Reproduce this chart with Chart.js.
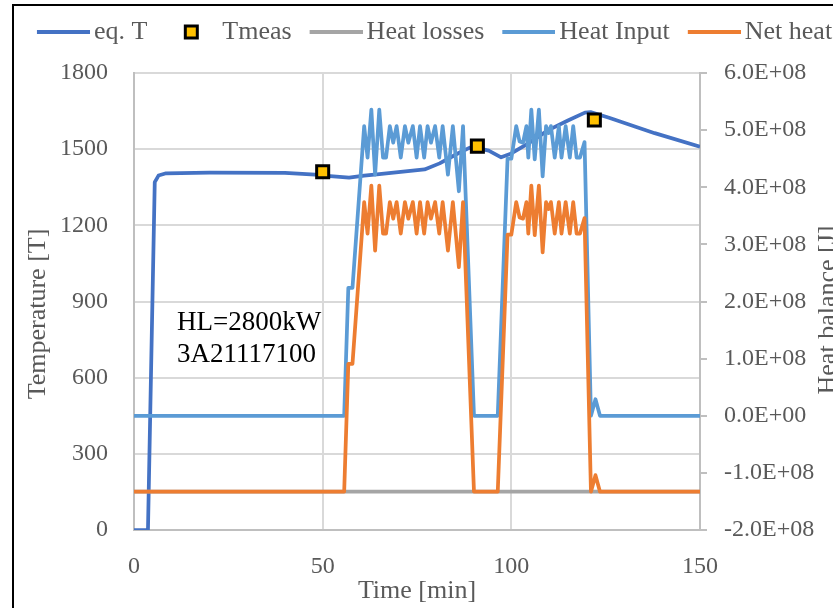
<!DOCTYPE html>
<html>
<head>
<meta charset="utf-8">
<title>Heat balance</title>
<script src="https://cdn.jsdelivr.net/npm/chart.js@4.4.0/dist/chart.umd.min.js"></script>
<style>
  html, body { margin: 0; padding: 0; background: #fff; overflow: hidden; width: 833px; height: 608px; }
  #chart { position: absolute; left: 14px; top: -4px; }
  #frame { position: absolute; left: 12px; top: 4px; width: 900px; height: 700px;
           border-left: 2px solid #000; border-top: 2px solid #000; pointer-events: none; }
</style>
</head>
<body>
<canvas id="chart" width="840" height="630"></canvas>
<div id="frame"></div>
<script>
// equivalent temperature
const tempTime = [0, 3.7, 5.5, 6.5, 8.5, 20, 40, 48, 52, 57, 61, 65, 77, 81, 85.8, 89, 91, 94, 97.3, 100, 104.4, 109.8, 115, 119.5, 121, 125.7, 138, 150];
const eqTemp   = [0, 0, 1370, 1396, 1405, 1408, 1407, 1400, 1394, 1388, 1396, 1402, 1420, 1444, 1483, 1506, 1504, 1494, 1468, 1483, 1522, 1575, 1613, 1644, 1646, 1625, 1563, 1510];

// measured temperature
const measTime = [50, 91, 122];
const measTemp = [1411, 1512, 1615];

// heat losses (constant)
const lossTime = [0, 150];
const heatLoss = [-1.33e8, -1.33e8];

// heat input and net heat [J]
const heatTime = [0, 55.7, 56.8, 57.9, 61.0, 61.9, 62.9, 63.9, 65.0, 66.0, 66.8, 67.8, 68.7, 69.6, 70.7, 71.8, 72.7, 73.9, 74.9, 75.8, 76.9, 77.8, 78.7, 79.8, 80.9, 81.8, 83.2, 84.5, 86.1, 87.2, 90.1,
                  96.4, 99.0, 100.0, 101.3, 102.2, 103.1, 104.0, 104.5, 105.3, 106.2, 107.3, 108.3, 109.2, 109.9, 110.5, 111.5, 112.6, 113.3, 114.4, 115.5, 116.4, 117.3, 118.2, 119.4, 121.1, 122.3, 123.5, 150];
const heatInput = [0, 0, 2.24e8, 2.24e8, 5.07e8, 4.52e8, 5.36e8, 4.22e8, 5.36e8, 4.52e8, 4.52e8, 5.07e8, 4.78e8, 5.07e8, 4.52e8, 5.07e8, 4.78e8, 5.07e8, 4.52e8, 5.07e8, 4.52e8, 5.07e8, 4.78e8, 5.07e8, 4.52e8, 5.07e8, 4.22e8, 5.07e8, 3.93e8, 5.07e8, 0,
                   0, 4.50e8, 4.50e8, 5.07e8, 4.80e8, 4.78e8, 5.07e8, 4.52e8, 5.36e8, 4.49e8, 5.36e8, 4.19e8, 5.07e8, 4.95e8, 5.07e8, 4.52e8, 5.07e8, 4.52e8, 5.07e8, 4.52e8, 5.07e8, 4.52e8, 4.52e8, 4.79e8, 0, 0.29e8, 0, 0];
const netHeat = [-1.33e8, -1.33e8, 0.91e8, 0.91e8, 3.74e8, 3.19e8, 4.03e8, 2.89e8, 4.03e8, 3.19e8, 3.19e8, 3.74e8, 3.45e8, 3.74e8, 3.19e8, 3.74e8, 3.45e8, 3.74e8, 3.19e8, 3.74e8, 3.19e8, 3.74e8, 3.45e8, 3.74e8, 3.19e8, 3.74e8, 2.89e8, 3.74e8, 2.60e8, 3.74e8, -1.33e8,
                 -1.33e8, 3.17e8, 3.17e8, 3.74e8, 3.47e8, 3.45e8, 3.74e8, 3.19e8, 4.03e8, 3.16e8, 4.03e8, 2.86e8, 3.74e8, 3.62e8, 3.74e8, 3.19e8, 3.74e8, 3.19e8, 3.74e8, 3.19e8, 3.74e8, 3.19e8, 3.19e8, 3.46e8, -1.33e8, -1.04e8, -1.33e8, -1.33e8];

// axis ticks
const timeTicks = [0, 50, 100, 150];
const tempTicks = [0, 300, 600, 900, 1200, 1500, 1800];
const heatTicks = [-2e8, -1e8, 0, 1e8, 2e8, 3e8, 4e8, 5e8, 6e8];

const noteLines = ['HL=2800kW', '3A21117100'];

const SERIF = "'Liberation Serif', 'Times New Roman', serif";
const GREY_TEXT = '#595959';

const pts = (xs, ys) => xs.map((x, i) => ({ x: x, y: ys[i] }));
const fixTicks = list => scale => { scale.ticks = list.map(v => ({ value: v })); };

// 6.0E+08 style labels
function sci(v) {
  if (v === 0) return '0.0E+00';
  const e = Math.floor(Math.log10(Math.abs(v)) + 1e-9);
  const m = v / Math.pow(10, e);
  return m.toFixed(1) + 'E' + (e < 0 ? '-' : '+') + String(Math.abs(e)).padStart(2, '0');
}

// legend swatches
function lineSwatch(color) {
  const c = document.createElement('canvas');
  c.width = 63; c.height = 6;
  const g = c.getContext('2d');
  g.strokeStyle = color;
  g.lineWidth = 4;
  g.beginPath(); g.moveTo(10, 3); g.lineTo(63, 3); g.stroke();
  return c;
}
function markerSwatch() {
  const c = document.createElement('canvas');
  c.width = 32; c.height = 18;
  const g = c.getContext('2d');
  g.fillStyle = '#FFC000';
  g.strokeStyle = '#000';
  g.lineWidth = 3;
  g.fillRect(14.5, 3, 12, 12);
  g.strokeRect(14.5, 3, 12, 12);
  return c;
}

const lineStyle = { pointRadius: 0, borderWidth: 3.75, tension: 0, fill: false, borderJoinStyle: 'round', xAxisID: 'x' };

const datasets = [
  Object.assign({ label: 'eq. T', data: pts(tempTime, eqTemp), borderColor: '#4472C4', yAxisID: 'y', order: 4 }, lineStyle),
  { label: 'Tmeas', data: pts(measTime, measTemp), showLine: false, xAxisID: 'x', yAxisID: 'y', order: 0,
    pointStyle: 'rect', pointRadius: 8.5, pointBorderWidth: 3, pointBorderColor: '#000', pointBackgroundColor: '#FFC000' },
  Object.assign({ label: 'Heat losses', data: pts(lossTime, heatLoss), borderColor: '#A5A5A5', yAxisID: 'y1', order: 3 }, lineStyle),
  Object.assign({ label: 'Heat Input', data: pts(heatTime, heatInput), borderColor: '#5B9BD5', yAxisID: 'y1', order: 2 }, lineStyle),
  Object.assign({ label: 'Net heat', data: pts(heatTime, netHeat), borderColor: '#ED7D31', yAxisID: 'y1', order: 1 }, lineStyle)
];

const swatches = [lineSwatch('#4472C4'), markerSwatch(), lineSwatch('#A5A5A5'), lineSwatch('#5B9BD5'), lineSwatch('#ED7D31')];

// note text and the rotated axis titles
const extraText = {
  id: 'extraText',
  afterDraw(chart) {
    const { ctx, chartArea } = chart;
    ctx.save();
    ctx.fillStyle = '#000';
    ctx.font = '27px ' + SERIF;
    ctx.textAlign = 'left';
    ctx.textBaseline = 'alphabetic';
    ctx.fillText(noteLines[0], chartArea.left + 43, chartArea.top + 257);
    ctx.fillText(noteLines[1], chartArea.left + 43, chartArea.top + 289);

    ctx.fillStyle = GREY_TEXT;
    ctx.font = '26px ' + SERIF;
    ctx.textAlign = 'center';
    ctx.textBaseline = 'middle';
    ctx.translate(chartArea.left - 96, chartArea.top + 241);
    ctx.rotate(-Math.PI / 2);
    ctx.fillText('Temperature [T]', 0, 0);
    ctx.restore();

    ctx.save();
    ctx.fillStyle = GREY_TEXT;
    ctx.font = '26px ' + SERIF;
    ctx.textAlign = 'center';
    ctx.textBaseline = 'middle';
    ctx.translate(chartArea.right + 128, chartArea.top + 237);
    ctx.rotate(-Math.PI / 2);
    ctx.fillText('Heat balance [J]', 0, 0);
    ctx.restore();
  }
};

new Chart(document.getElementById('chart'), {
  type: 'line',
  data: { datasets: datasets },
  plugins: [extraText],
  options: {
    responsive: false,
    devicePixelRatio: 1,
    animation: false,
    events: [],
    layout: { padding: { top: 6, left: 0, right: 0, bottom: 0 } },
    plugins: {
      tooltip: { enabled: false },
      legend: {
        position: 'top',
        labels: {
          usePointStyle: true,
          pointStyleWidth: 45,
          padding: 17,
          color: GREY_TEXT,
          font: { family: SERIF, size: 26 },
          generateLabels: chart => chart.data.datasets.map((ds, i) => ({
            text: ds.label,
            pointStyle: swatches[i],
            fontColor: GREY_TEXT,
            fillStyle: 'transparent',
            strokeStyle: 'transparent',
            lineWidth: 0,
            hidden: false,
            datasetIndex: i
          }))
        }
      }
    },
    scales: {
      x: {
        type: 'linear', position: 'bottom', min: 0, max: 150,
        afterBuildTicks: fixTicks(timeTicks),
        ticks: { padding: 22, maxRotation: 0, color: GREY_TEXT, font: { family: SERIF, size: 24 }, callback: v => String(v) },
        grid: { color: '#D9D9D9', lineWidth: 2, drawTicks: false },
        border: { color: '#BFBFBF', width: 2 },
        title: { display: true, text: 'Time [min]', color: GREY_TEXT, font: { family: SERIF, size: 26 }, padding: { top: 0, bottom: 19 } },
        afterFit: s => { s.height = 96; }
      },
      y: {
        position: 'left', min: 0, max: 1800,
        afterBuildTicks: fixTicks(tempTicks),
        ticks: { padding: 26, color: GREY_TEXT, font: { family: SERIF, size: 24 }, callback: v => String(v) },
        grid: { color: '#D9D9D9', lineWidth: 2, drawTicks: false },
        border: { color: '#BFBFBF', width: 2 },
        afterFit: s => { s.width = 120; }
      },
      y1: {
        position: 'right', min: -2e8, max: 6e8,
        afterBuildTicks: fixTicks(heatTicks),
        ticks: { padding: 17, color: GREY_TEXT, font: { family: SERIF, size: 24 }, callback: v => sci(v) },
        grid: { drawOnChartArea: false, color: '#BFBFBF', lineWidth: 2, tickLength: 7 },
        border: { color: '#BFBFBF', width: 2 },
        afterFit: s => { s.width = 154; }
      },
      // empty band between the legend and the plot
      gap: {
        type: 'linear', position: 'top', min: 0, max: 1,
        ticks: { display: false },
        grid: { display: false, drawTicks: false },
        border: { display: false },
        afterFit: s => { s.height = 18; }
      }
    }
  }
});
</script>
</body>
</html>
